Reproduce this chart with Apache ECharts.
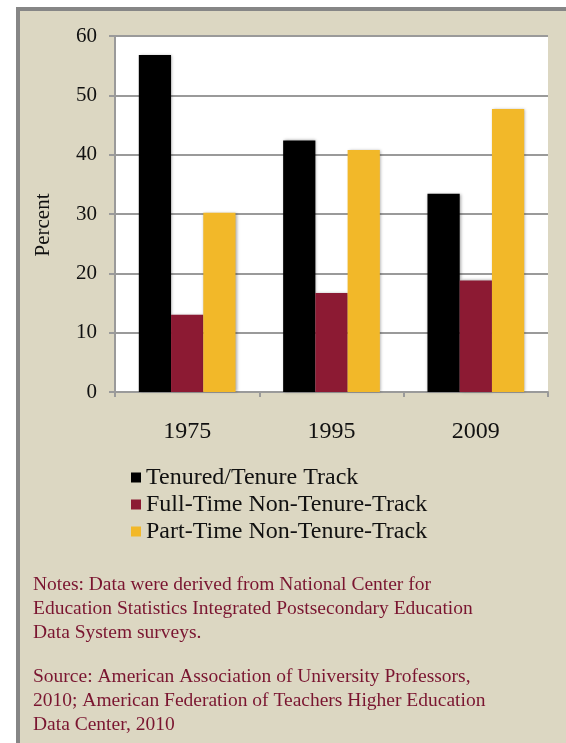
<!DOCTYPE html>
<html>
<head>
<meta charset="utf-8">
<script src="https://cdn.jsdelivr.net/npm/echarts@6/dist/echarts.min.js"></script>
<style>
  html, body { margin: 0; padding: 0; background: #fff; }
  #chart { width: 566px; height: 743px; }
</style>
</head>
<body>
<div id="chart"></div>
<script>
// data
var years = ['1975', '1995', '2009'];
var seriesNames = ['Tenured/Tenure Track', 'Full-Time Non-Tenure-Track', 'Part-Time Non-Tenure-Track'];
var tenured = [56.8, 42.4, 33.4];
var fullTime = [13.0, 16.7, 18.8];
var partTime = [30.2, 40.8, 47.7];
var colors = ['#000000', '#8C1A33', '#F2B829'];
var notes = 'Notes: Data were derived from National Center for\nEducation Statistics Integrated Postsecondary Education\nData System surveys.';
var source = 'Source: American Association of University Professors,\n2010; American Federation of Teachers Higher Education\nData Center, 2010';

var serif = '"Liberation Serif", "DejaVu Serif", serif';

var chart = echarts.init(document.getElementById('chart'));

function bar(name, data, color) {
    return {
        name: name,
        type: 'bar',
        data: data,
        barGap: 0,
        barCategoryGap: '33%',
        itemStyle: {
            color: color,
            shadowBlur: 3,
            shadowColor: 'rgba(0,0,0,0.35)',
            shadowOffsetX: 1,
            shadowOffsetY: 0
        }
    };
}

var option = {
    backgroundColor: '#ffffff',
    animation: false,
    color: colors,
    graphic: [
        // beige panel with grey border on top and left
        { type: 'rect', z: -10, shape: { x: 16, y: 7, width: 560, height: 740 }, style: { fill: '#DCD7C2' } },
        { type: 'rect', z: -9, shape: { x: 16, y: 7, width: 560, height: 4 }, style: { fill: '#868686' } },
        { type: 'rect', z: -9, shape: { x: 16, y: 7, width: 4, height: 740 }, style: { fill: '#868686' } },
        { type: 'rect', z: -8, shape: { x: 115, y: 36, width: 433, height: 356 }, style: { fill: '#ffffff' } },
        // y axis title
        {
            type: 'text', x: 43, y: 225, rotation: Math.PI / 2,
            style: { text: 'Percent', font: '21px ' + serif, fill: '#111', align: 'center', verticalAlign: 'middle' }
        },
        {
            type: 'text', left: 33, top: 573,
            style: { text: notes, font: '19.5px ' + serif, fill: '#7A1530', lineHeight: 24 }
        },
        {
            type: 'text', left: 33, top: 665,
            style: { text: source, font: '19.5px ' + serif, fill: '#7A1530', lineHeight: 24 }
        }
    ],
    legend: {
        orient: 'vertical',
        left: 126,
        top: 459,
        itemWidth: 10,
        itemHeight: 10,
        itemGap: 0,
        icon: 'rect',
        data: seriesNames,
        textStyle: { fontFamily: serif, fontSize: 24, color: '#111', lineHeight: 27, padding: [0, 0, 0, 0] }
    },
    grid: { left: 115, top: 36, right: 18, bottom: 351 },
    xAxis: {
        type: 'category',
        data: years,
        axisLine: { lineStyle: { color: '#9A9A9A', width: 2 } },
        axisTick: { show: true, length: 5, lineStyle: { color: '#9A9A9A', width: 2 } },
        axisLabel: { fontFamily: serif, fontSize: 24, color: '#111', margin: 28 }
    },
    yAxis: {
        type: 'value',
        min: 0,
        max: 60,
        interval: 10,
        axisLine: { show: true, lineStyle: { color: '#9A9A9A', width: 2 } },
        axisTick: { show: true, length: 6, lineStyle: { color: '#9A9A9A', width: 2 } },
        axisLabel: { fontFamily: serif, fontSize: 21, color: '#111', margin: 18 },
        splitLine: { lineStyle: { color: '#9A9A9A', width: 2 } }
    },
    series: [
        bar(seriesNames[0], tenured, colors[0]),
        bar(seriesNames[1], fullTime, colors[1]),
        bar(seriesNames[2], partTime, colors[2])
    ]
};

chart.setOption(option);
</script>
</body>
</html>
